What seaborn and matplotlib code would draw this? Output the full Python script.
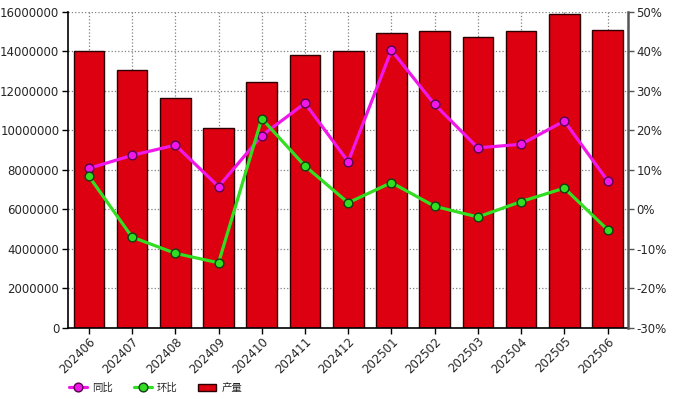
import numpy as np
import pandas as pd
import matplotlib
matplotlib.use("Agg")
import matplotlib.pyplot as plt
import seaborn as sns
from matplotlib.ticker import FuncFormatter, MultipleLocator
from matplotlib.lines import Line2D
from matplotlib.patches import Patch

months = ["202406", "202407", "202408", "202409", "202410", "202411", "202412",
          "202501", "202502", "202503", "202504", "202505", "202506"]
output = [14000000, 13080000, 11650000, 10110000, 12440000, 13810000, 14020000,
          14940000, 15050000, 14750000, 15050000, 15880000, 15100000]
yoy = [10.4, 13.7, 16.3, 5.8, 18.7, 26.9, 12.1, 40.3, 26.6, 15.6, 16.5, 22.4, 7.3]
mom = [8.4, -7.0, -11.1, -13.5, 23.0, 11.0, 1.7, 6.8, 0.8, -1.9, 2.0, 5.4, -5.1]
legend_labels = ["同比", "环比", "产量"]

df = pd.DataFrame({"month": months, "output": output, "yoy": yoy, "mom": mom})

sns.set_style("white")
plt.rcParams["font.family"] = ["DejaVu Sans", "Noto Sans CJK SC"]

fig = plt.figure(figsize=(6.93, 3.99), dpi=100)
ax = fig.add_axes([0.0977, 0.178, 0.8083, 0.792])

bar_color = "#DD0010"
sns.barplot(data=df, x="month", y="output", ax=ax, color=bar_color,
            saturation=1, width=0.71, edgecolor="#2a0000", linewidth=1.0, zorder=2)
ax.set_ylim(0, 16000000)
ax.yaxis.set_major_locator(MultipleLocator(2000000))
ax.yaxis.set_major_formatter(FuncFormatter(lambda v, p: f"{int(v)}"))
ax.set_xlabel("")
ax.set_ylabel("")
ax.grid(True, axis="both", linestyle=":", color="#808080", linewidth=0.9, zorder=0)
ax.set_axisbelow(True)

mag = "#F018E8"
grn = "#33DD22"
ax2 = ax.twinx()
sns.pointplot(data=df, x="month", y="yoy", ax=ax2, color=mag,
              markers="o", markersize=6.3, markeredgecolor="#5a0050",
              markeredgewidth=1.0, linewidth=2.3)
sns.pointplot(data=df, x="month", y="mom", ax=ax2, color=grn,
              markers="o", markersize=6.3, markeredgecolor="#104010",
              markeredgewidth=1.0, linewidth=2.3)
ax2.set_ylim(-30, 50)
ax2.yaxis.set_major_locator(MultipleLocator(10))
ax2.yaxis.set_major_formatter(FuncFormatter(lambda v, p: f"{int(round(v))}%"))
ax2.set_ylabel("")
ax2.set_xlabel("")
ax2.grid(False)

for a in (ax, ax2):
    a.set_xlim(-0.49, 12.47)

fs = 8.5
ax.tick_params(axis="y", which="major", direction="out", length=4, width=1,
               color="black", labelsize=fs, pad=2, left=True)
ax.tick_params(axis="x", which="major", direction="out", length=4, width=1,
               color="black", labelsize=fs, pad=1, bottom=True)
ax2.tick_params(axis="y", which="major", direction="out", length=4, width=1,
                color="#555555", labelsize=fs, pad=2, right=True)
for lab in ax.get_xticklabels():
    lab.set_rotation(45)
    lab.set_ha("right")
    lab.set_rotation_mode("anchor")

for a in (ax, ax2):
    a.spines["top"].set_visible(False)
ax.spines["left"].set_color("black")
ax.spines["left"].set_linewidth(1.2)
ax.spines["bottom"].set_color("black")
ax.spines["bottom"].set_linewidth(1.2)
ax.spines["right"].set_visible(False)
ax2.spines["left"].set_visible(False)
ax2.spines["bottom"].set_visible(False)
ax2.spines["right"].set_color("#555555")
ax2.spines["right"].set_linewidth(1.8)

handles = [
    Line2D([0], [0], color=mag, lw=2.3, marker="o", markersize=6.3,
           markerfacecolor=mag, markeredgecolor="#5a0050"),
    Line2D([0], [0], color=grn, lw=2.3, marker="o", markersize=6.3,
           markerfacecolor=grn, markeredgecolor="#104010"),
    Patch(facecolor=bar_color, edgecolor="#2a0000", linewidth=1.0),
]
lfs = 7.5
fig.legend(handles, legend_labels, loc="center left", bbox_to_anchor=(0.100, 0.028),
           ncol=3, frameon=False, handlelength=1.7, handletextpad=0.5,
           columnspacing=2.0, borderaxespad=0, borderpad=0,
           prop={"family": ["Noto Sans CJK SC"], "size": lfs})

fig.savefig("out.png", dpi=100)
